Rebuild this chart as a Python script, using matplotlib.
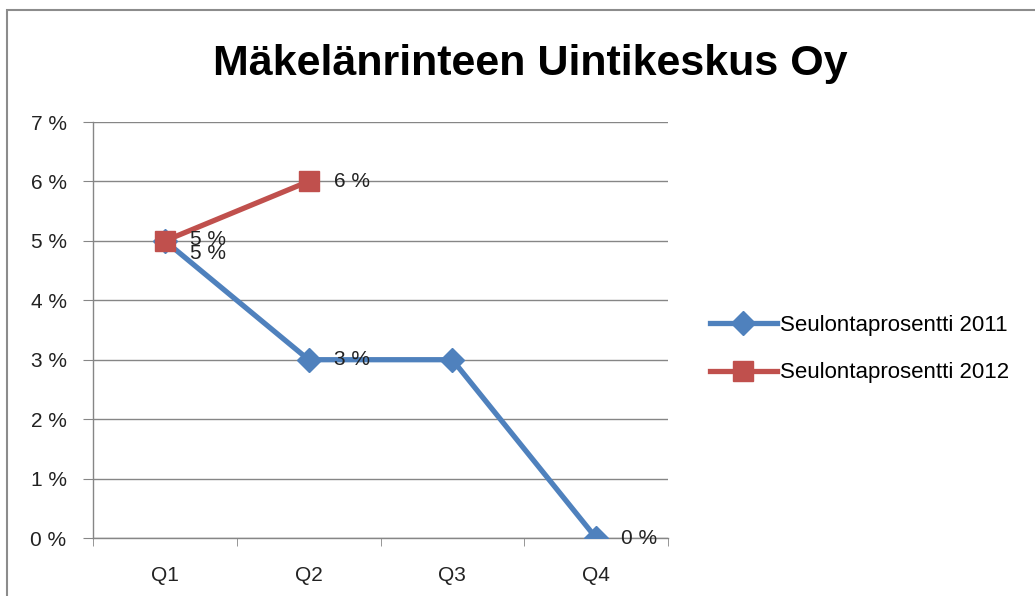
import matplotlib
matplotlib.use("Agg")
import matplotlib.pyplot as plt
from matplotlib.patches import Rectangle

# Kvartaalit ja seulontaprosentit
quarters = ["Q1", "Q2", "Q3", "Q4"]
rate_2011 = [5, 3, 3, 0]
rate_2012 = [5, 6]
labels_2011 = ["5 %", "3 %", None, "0 %"]
labels_2012 = ["5 %", "6 %"]
y_ticks = [0, 1, 2, 3, 4, 5, 6, 7]

BLUE = "#4F81BD"
RED = "#C0504D"
GRID = "#868686"

plt.rcParams["font.family"] = ["Liberation Sans", "DejaVu Sans"]

fig = plt.figure(figsize=(10.35, 5.96), dpi=100)
W, H = 1035, 596

# kaavion ulkoreunus
fig.patches.append(Rectangle((7 / W, -0.1), 1.2, (H - 10) / H + 0.1,
                             transform=fig.transFigure, fill=False,
                             edgecolor="#8c8c8c", linewidth=1.5))

ax = fig.add_axes([93 / W, 1 - 538 / H, (668 - 93) / W, (538 - 122) / H])
x = list(range(len(quarters)))

ax.plot(x, rate_2011, color=BLUE, linewidth=3.8, marker="D", markersize=12,
        label="Seulontaprosentti 2011", zorder=3)
ax.plot(x[:len(rate_2012)], rate_2012, color=RED, linewidth=3.8, marker="s",
        markersize=15, label="Seulontaprosentti 2012", zorder=4)

txt = dict(fontsize=15, color="#222222")
for xi, (v, lab) in enumerate(zip(rate_2011, labels_2011)):
    if lab:
        dy = -9 if xi == 0 else 0
        ax.annotate(lab, (xi, v), xytext=(18, dy), textcoords="offset points",
                    va="center", ha="left", zorder=5, **txt)
for xi, (v, lab) in enumerate(zip(rate_2012, labels_2012)):
    dy = 1 if xi == 0 else 0
    ax.annotate(lab, (xi, v), xytext=(18, dy), textcoords="offset points",
                va="center", ha="left", zorder=5, **txt)

ax.set_xlim(-0.5, len(quarters) - 0.5)
ax.set_ylim(0, 7)
ax.set_yticks(y_ticks)
ax.set_yticklabels([f"{t} %" for t in y_ticks], fontsize=15, color="#222222")
ax.set_xticks(x)
ax.set_xticklabels(quarters, fontsize=15, color="#222222")
ax.set_xticks([i - 0.5 for i in range(len(quarters) + 1)], minor=True)
ax.tick_params(axis="x", which="major", length=0, pad=20)
ax.tick_params(axis="x", which="minor", length=6, color=GRID, direction="out")
ax.tick_params(axis="y", length=7, color=GRID, pad=12)
ax.yaxis.grid(True, color=GRID, linewidth=1)
ax.set_axisbelow(True)
for side in ("top", "right"):
    ax.spines[side].set_visible(False)
for side in ("left", "bottom"):
    ax.spines[side].set_color(GRID)
    ax.spines[side].set_linewidth(1)

fig.text(530 / W, 1 - 64 / H, "Mäkelänrinteen Uintikeskus Oy", ha="center",
         va="center", fontsize=31, fontweight="bold")

fig.legend(loc="center left", bbox_to_anchor=(690 / W, 1 - 349 / H),
           frameon=False, handlelength=3.0, handletextpad=0.15,
           labelspacing=1.2, prop={"size": 16})

fig.savefig("out.png", dpi=100)
